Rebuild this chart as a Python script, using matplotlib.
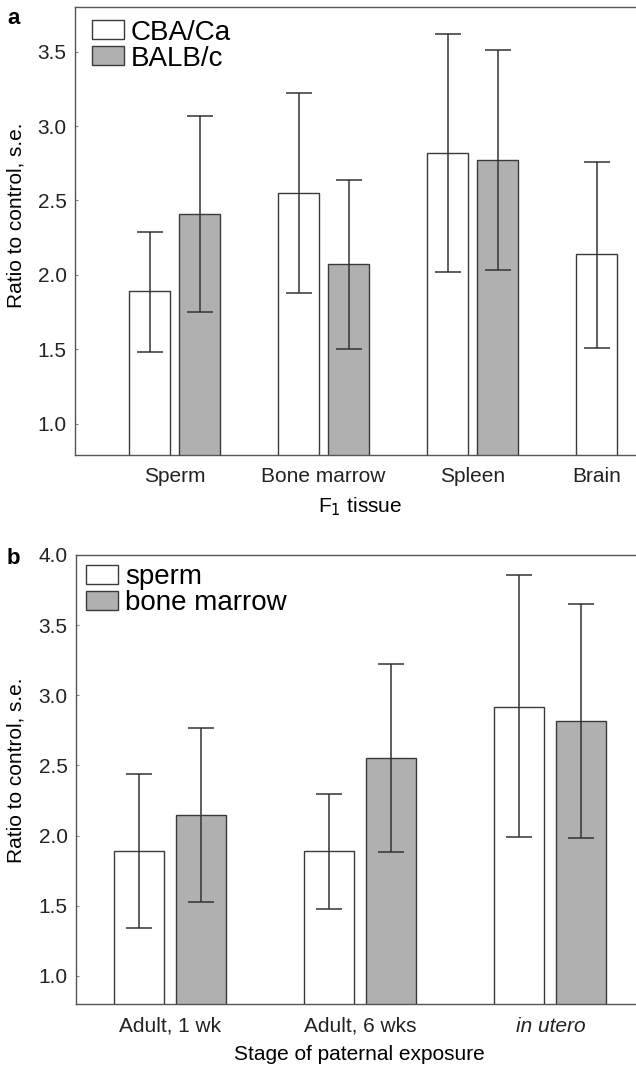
import matplotlib
matplotlib.use("Agg")
import matplotlib.pyplot as plt
from matplotlib.patches import Patch
import numpy as np

# ---- Panel a data ----
tissues = ["Sperm", "Bone marrow", "Spleen", "Brain"]
cba_mean = [1.89, 2.55, 2.82, 2.14]
cba_lo = [1.48, 1.88, 2.02, 1.51]
cba_hi = [2.29, 3.22, 3.62, 2.76]
balb_mean = [2.41, 2.07, 2.77]
balb_lo = [1.75, 1.50, 2.03]
balb_hi = [3.07, 2.64, 3.51]
series_a = ["CBA/Ca", "BALB/c"]

# ---- Panel b data ----
stages = ["Adult, 1 wk", "Adult, 6 wks", "in utero"]
sperm_mean = [1.89, 1.89, 2.92]
sperm_lo = [1.34, 1.48, 1.99]
sperm_hi = [2.44, 2.30, 3.86]
bm_mean = [2.15, 2.55, 2.82]
bm_lo = [1.53, 1.88, 1.98]
bm_hi = [2.77, 3.22, 3.65]
series_b = ["sperm", "bone marrow"]

plt.rcParams['font.family'] = ['Liberation Sans', 'DejaVu Sans']
EDGE = '#3a3a3a'
GRAY = '#b0b0b0'
SPINE = '#555555'
FS = 15

fig = plt.figure(figsize=(6.36, 10.66), dpi=100)
axa = fig.add_axes([75/636, 1-455/1066, 561/636, 448/1066])
axb = fig.add_axes([76/636, 1-1004/1066, 560/636, 449/1066])

def style(ax):
    for s in ['left', 'top', 'bottom']:
        ax.spines[s].set_color(SPINE)
        ax.spines[s].set_linewidth(1.0)
    ax.spines['right'].set_visible(False)
    ax.tick_params(axis='x', length=0, labelsize=FS, colors='#222222', pad=9)
    ax.tick_params(axis='y', length=2.5, direction='in', width=0.8, color='#888888',
                   labelsize=FS, labelcolor='#222222', pad=6)

def bars(ax, x, mean, lo, hi, color, w):
    x = np.asarray(x, float)
    mean = np.asarray(mean); lo = np.asarray(lo); hi = np.asarray(hi)
    ax.bar(x, mean, width=w, color=color, edgecolor=EDGE, linewidth=1.0, zorder=2)
    ax.errorbar(x, mean, yerr=[mean - lo, hi - mean], fmt='none', ecolor='#333333',
                elinewidth=1.1, capsize=9.5, capthick=1.1, zorder=3)

hl = [Patch(facecolor='white', edgecolor=EDGE), Patch(facecolor=GRAY, edgecolor=EDGE)]
leg_kw = dict(loc='upper left', fontsize=20, frameon=False,
              handlelength=1.15, handleheight=0.68, handletextpad=0.25,
              labelspacing=0.0, borderaxespad=0.0, borderpad=0.0)

# Panel a
off_a, w_a = 0.168, 0.27
xa = np.arange(len(tissues), dtype=float)
x_cba = xa - off_a
x_balb = xa[:3] + off_a
bars(axa, x_cba, cba_mean, cba_lo, cba_hi, 'white', w_a)
bars(axa, x_balb, balb_mean, balb_lo, balb_hi, GRAY, w_a)
tick_a = list(xa[:3]) + [x_cba[3]]
axa.set_xticks(tick_a)
axa.set_xticklabels(tissues)
axa.set_xlim(-0.668, 3.097)
axa.set_ylim(0.79, 3.80)
axa.set_yticks([1.0, 1.5, 2.0, 2.5, 3.0, 3.5])
axa.set_yticklabels(["1.0", "1.5", "2.0", "2.5", "3.0", "3.5"])
style(axa)
axa.set_ylabel("Ratio to control, s.e.", fontsize=FS)
axa.set_xlabel("F$_1$ tissue", fontsize=FS)
axa.yaxis.set_label_coords(-0.089, 0.535)
axa.xaxis.set_label_coords(0.508, -0.091)
axa.xaxis.label.set_va('top')
axa.legend(hl, series_a, bbox_to_anchor=(0.030, 0.972), **leg_kw)
fig.text(7/636, 1-18/1066, "a", fontsize=16, fontweight='bold', va='center', ha='left')

# Panel b
off_b, w_b = 0.163, 0.263
xb = np.arange(len(stages), dtype=float)
bars(axb, xb - off_b, sperm_mean, sperm_lo, sperm_hi, 'white', w_b)
bars(axb, xb + off_b, bm_mean, bm_lo, bm_hi, GRAY, w_b)
axb.set_xticks(xb)
axb.set_xticklabels(stages)
axb.get_xticklabels()[2].set_fontstyle('italic')
axb.set_xlim(-0.495, 2.45)
axb.set_ylim(0.80, 4.0)
axb.set_yticks([1.0, 1.5, 2.0, 2.5, 3.0, 3.5, 4.0])
axb.set_yticklabels(["1.0", "1.5", "2.0", "2.5", "3.0", "3.5", "4.0"])
style(axb)
axb.set_ylabel("Ratio to control, s.e.", fontsize=FS)
axb.set_xlabel("Stage of paternal exposure", fontsize=FS)
axb.yaxis.set_label_coords(-0.091, 0.52)
axb.xaxis.set_label_coords(0.506, -0.092)
axb.xaxis.label.set_va('top')
axb.legend(hl, series_b, bbox_to_anchor=(0.018, 0.98), **leg_kw)
fig.text(7/636, 1-558/1066, "b", fontsize=16, fontweight='bold', va='center', ha='left')

fig.savefig("out.png", dpi=100)
